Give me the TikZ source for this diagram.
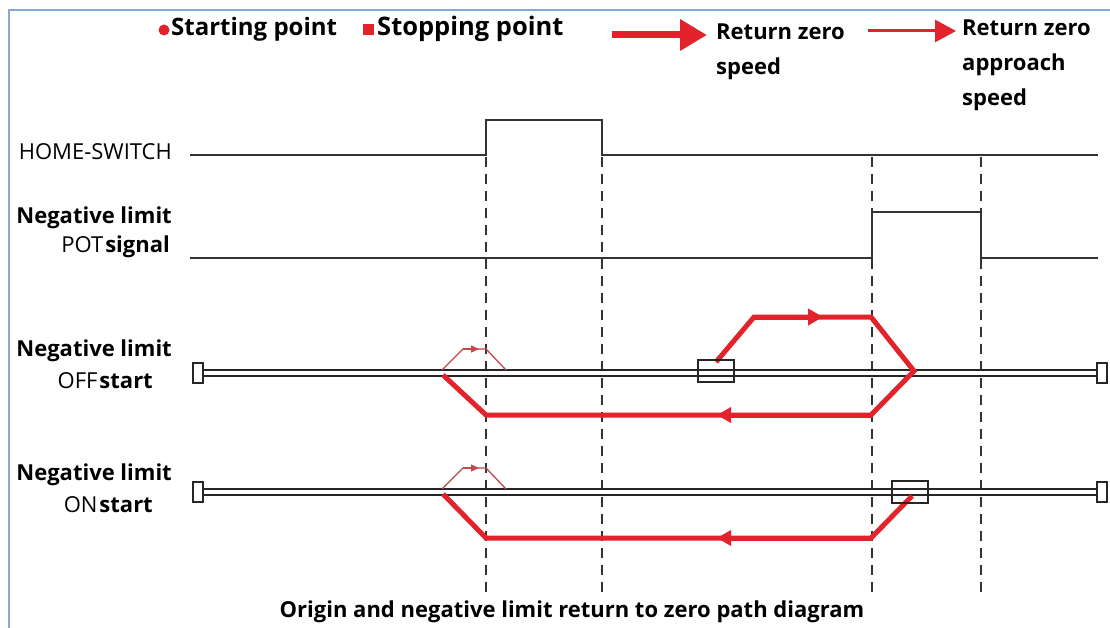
\documentclass[tikz,border=0pt]{standalone}
\usepackage{fontspec}
\setmainfont{Open Sans}
\usepackage{tikz}
\usetikzlibrary{arrows.meta,positioning,calc}
\definecolor{pathred}{HTML}{E2232B}
\definecolor{thinred}{HTML}{C4474C}
\definecolor{frameblue}{HTML}{86A8D4}

\begin{document}
\begin{tikzpicture}[>=Stealth, x=1pt, y=-1pt,
    txt/.style={font=\fontsize{22}{35}\selectfont, inner sep=0pt},
    btxt/.style={font=\fontsize{22}{35}\selectfont\bfseries, inner sep=0pt},
    sig/.style={line width=1.8pt, black!80},
    guide/.style={line width=1.4pt, black!80, dash pattern=on 10pt off 7pt},
    rail/.style={line width=1.3pt, black!85, double=white, double distance=4.7pt},
    fast/.style={line width=5pt, pathred},
    slow/.style={line width=1.3pt, thinred},
    startbox/.style={draw, line width=1.3pt, black!85, minimum width=36pt, minimum height=22pt, inner sep=0pt}]
  \useasboundingbox (0,0) rectangle (1110,628);
  \fill[white] (0,0) rectangle (1110,628);
  % Frame
  \draw[frameblue, line width=2pt] (9,628) -- (9,10) -- (1110,10);

  % Legend
  \node[circle, fill=pathred, minimum size=11pt, inner sep=0pt] (ldot) at (164,30) {};
  \node[btxt, font=\fontsize{24}{35}\selectfont\bfseries, anchor=west] (lstart) at (171,29) {Starting point};
  \node[fill=pathred, minimum size=11pt, inner sep=0pt] (lsq) at (368,30) {};
  \node[btxt, font=\fontsize{25.5}{35}\selectfont\bfseries, anchor=west] (lstop) at (377,29) {Stopping point};
  \coordinate (fa) at (612,35);
  \coordinate (fb) at (707,35);
  \draw[pathred, line width=7pt, -{Triangle[length=27pt,width=30pt]}] (fa) -- (fb);
  \node[btxt, anchor=north west, align=left] (lfast) at (716,24) {Return zero\\speed};
  \coordinate (sa) at (868,31);
  \coordinate (sb) at (956,31);
  \draw[pathred, line width=3pt, -{Triangle[length=21pt,width=22pt]}] (sa) -- (sb);
  \node[btxt, anchor=north west, align=left] (lslow) at (962,20) {Return zero\\approach\\speed};

  % Signal labels
  \node[txt, anchor=east] (home) at (172,152) {HOME-SWITCH};
  \node[btxt, anchor=east] (potneg) at (172,218) {Negative limit};
  \node[txt, anchor=east] (pot) at (170,247) {POT\hspace{2pt}{\bfseries signal}};
  \node[btxt, anchor=east] (offneg) at (172,351) {Negative limit};
  \node[txt, anchor=east] (off) at (153,381) {OFF\hspace{2pt}{\bfseries start}};
  \node[btxt, anchor=east] (onneg) at (172,475) {Negative limit};
  \node[txt, anchor=east] (on) at (153,505) {ON\hspace{2pt}{\bfseries start}};

  % Signals
  \draw[sig] (190,155) -- (486,155) -- (486,120) -- (602,120) -- (602,155) -- (1098,155);
  \draw[sig] (190,258) -- (872,258) -- (872,212) -- (981,212) -- (981,258) -- (1098,258);
  \foreach \x in {486,602,872,981}
    \draw[guide] (\x,157) -- (\x,597);

  % Rails
  \foreach \y in {373,492} {
    \draw[rail] (203,\y) -- (1097,\y);
    \draw[line width=1.3pt, black!85] (193,\y-10) rectangle (203,\y+10);
    \draw[line width=1.3pt, black!85] (1097,\y-10) rectangle (1107,\y+10);
    \draw[slow] (442,\y-3) -- (463,\y-24) -- (486,\y-24) -- (506,\y-3);
    \draw[slow, -{Triangle[length=8pt,width=7pt]}] (463,\y-24) -- (479,\y-24);
  }

  % Paths
  \coordinate (off0) at (716,362);
  \coordinate (off1) at (754,317);
  \coordinate (off2) at (871,317);
  \coordinate (off3) at (914,371);
  \coordinate (off4) at (871,415);
  \coordinate (off5) at (486,415);
  \coordinate (off6) at (443,375);
  \draw[fast] (off0) -- (off1) -- (off2) -- (off3) -- (off4) -- (off5) -- (off6);
  \draw[fast, -{Triangle[length=15pt,width=16pt]}] (off1) -- ($(off1)!0.59!(off2)$);
  \draw[fast, -{Triangle[length=14pt,width=15pt]}] (off4) -- ($(off4)!0.40!(off5)$);
  \coordinate (on0) at (912,496);
  \coordinate (on1) at (871,538);
  \coordinate (on2) at (486,538);
  \coordinate (on3) at (443,494);
  \draw[fast] (on0) -- (on1) -- (on2) -- (on3);
  \draw[fast, -{Triangle[length=14pt,width=15pt]}] (on1) -- ($(on1)!0.40!(on2)$);
  \node[startbox] (offbox) at (716,371) {};
  \node[startbox] (onbox) at (910,492) {};

  % Caption
  \node[btxt] (title) at (572,612) {Origin and negative limit return to zero path diagram};
\end{tikzpicture}
\end{document}
